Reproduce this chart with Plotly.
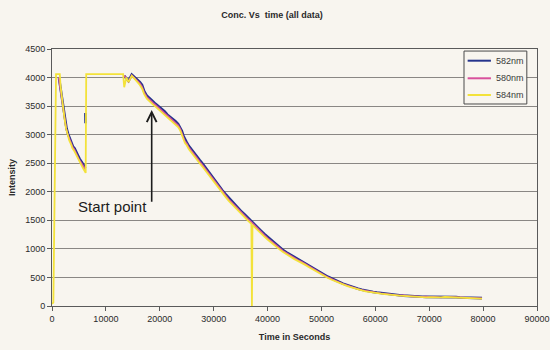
import plotly.graph_objects as go

# ---- data -----------------------------------------------------------------
# Early part of each run (first decay and the saturated stretch)
t_early_582 = [1300, 1500, 1700, 1900, 2100, 2400, 2700, 3000, 3300, 3600,
               3900, 4200, 4500, 4800, 5100, 5400, 5700, 6000, 6150, 6180,
               6200, 6230, 9000]
i_early_582 = [3990, 3870, 3720, 3590, 3480, 3280, 3110, 3010, 2930, 2870,
               2790, 2760, 2710, 2640, 2580, 2540, 2490, 2450, 2410, None,
               3380, 3200, None]

t_early_580 = [1250, 1450, 1650, 1850, 2050, 2350, 2650, 2950, 3250, 3550,
               3850, 4150, 4450, 4750, 5050, 5350, 5650, 5950, 6150, 9000]
i_early_580 = [4000, 3870, 3720, 3590, 3470, 3280, 3100, 3000, 2920, 2860,
               2780, 2740, 2690, 2620, 2560, 2520, 2470, 2430, 2380, None]

t_early_584 = [0, 250, 750, 1000, 1450, 1600, 1800, 2000, 2300, 2600,
               2900, 3200, 3500, 3800, 4100, 4400, 4700, 5000, 5300, 5600,
               5900, 6100, 6250, 6350, 8000, 10000, 12000, 13000, 13200]
i_early_584 = [40, 60, 4060, 4060, 4060, 3840, 3660, 3500, 3300, 3110,
               3000, 2900, 2840, 2760, 2720, 2660, 2590, 2530, 2480, 2440,
               2390, 2340, 2330, 4060, 4060, 4060, 4060, 4060, 4060]

# Main decay, shared time grid (s)
t_decay = [13400, 13800, 14200, 14800, 15300, 15800, 16300, 16700, 17100, 17600,
           18200, 18700, 19200, 19800, 20400, 20900, 21400, 21900, 22400, 22900,
           23400, 23800, 24100, 24400, 24700, 25000, 25400, 25900, 26400, 26900,
           27400, 28000, 28600, 29200, 29800, 30400, 31000, 31600, 32200, 32800,
           33400, 34000, 34600, 35200, 35800, 36400, 37000, 37100, 37200, 37600,
           38200, 38800, 39400, 40000, 40700, 41400, 42100, 42800, 43500, 44200,
           44900, 45600, 46300, 47000, 47700, 48400, 49100, 49800, 50500, 51200,
           51900, 52600, 53300, 54000, 54700, 55400, 56100, 56800, 57500, 58200,
           58900, 59600, 60300, 61000, 61700, 62400, 63100, 63800, 64500, 65200,
           65900, 66600, 67300, 68000, 68700, 69400, 70100, 70800, 71500, 72200,
           72900, 73600, 74300, 75000, 75700, 76400, 77100, 77800, 78500, 79200,
           79800]

i_decay_582 = [4030, 3990, 3940, 4050, 4010, 3970, 3920, 3870, 3760, 3680,
               3620, 3585, 3540, 3495, 3440, 3405, 3350, 3315, 3265, 3235,
               3185, 3125, 3065, 2975, 2905, 2865, 2800, 2735, 2665, 2615,
               2555, 2485, 2405, 2335, 2250, 2175, 2090, 2025, 1960, 1895,
               1830, 1770, 1715, 1650, 1600, 1540, 1490, 1480, 1470, 1430,
               1370, 1315, 1260, 1210, 1150, 1090, 1040, 985, 940, 900,
               860, 820, 790, 750, 710, 670, 630, 590, 550, 512,
               482, 450, 420, 392, 370, 345, 322, 302, 286, 270,
               256, 246, 236, 226, 216, 206, 199, 192, 188, 182,
               176, 172, 168, 165, 162, 160, 160, 158, 162, 160,
               166, 164, 160, 156, 150, 148, 150, 146, 142, 140,
               138]

i_decay_580 = [4035, 3985, 3930, 4040, 3995, 3950, 3900, 3840, 3740, 3660,
               3600, 3560, 3520, 3470, 3420, 3380, 3330, 3290, 3245, 3210,
               3165, 3100, 3040, 2950, 2880, 2845, 2775, 2710, 2640, 2590,
               2530, 2460, 2385, 2310, 2225, 2150, 2070, 2000, 1940, 1870,
               1810, 1750, 1690, 1630, 1580, 1520, 1470, 1460, 1450, 1410,
               1350, 1295, 1240, 1190, 1130, 1075, 1025, 970, 925, 885,
               845, 805, 775, 735, 695, 655, 618, 578, 540, 502,
               472, 440, 412, 384, 362, 338, 315, 296, 280, 265,
               250, 240, 231, 222, 212, 203, 205, 188, 185, 186,
               172, 169, 172, 161, 160, 166, 155, 163, 158, 150,
               162, 160, 156, 152, 146, 143, 146, 142, 138, 136,
               134]

i_decay_584 = [3830, 4000, 3920, 4030, 3980, 3930, 3870, 3810, 3710, 3630,
               3570, 3530, 3490, 3440, 3390, 3350, 3300, 3260, 3215, 3180,
               3135, 3070, 3010, 2920, 2850, 2815, 2745, 2680, 2610, 2560,
               2500, 2430, 2355, 2280, 2195, 2120, 2040, 1970, 1910, 1840,
               1780, 1720, 1660, 1600, 1550, 1490, 1440, 0, 1420, 1380,
               1325, 1270, 1215, 1165, 1105, 1050, 1000, 950, 905, 865,
               825, 790, 760, 720, 680, 640, 605, 565, 528, 490,
               460, 430, 400, 374, 352, 330, 308, 290, 274, 258,
               244, 235, 226, 216, 208, 198, 192, 186, 181, 176,
               170, 166, 162, 158, 156, 152, 154, 150, 155, 152,
               158, 156, 150, 140, 138, 140, 142, 138, 134, 132,
               130]

series = [
    ("582nm", t_early_582, i_early_582, i_decay_582, "#25348c", 2.6),
    ("580nm", t_early_580, i_early_580, i_decay_580, "#d8509c", 1.6),
    ("584nm", t_early_584, i_early_584, i_decay_584, "#f3e23a", 1.8),
]

x_ticks = [0, 10000, 20000, 30000, 40000, 50000, 60000, 70000, 80000, 90000]
y_ticks = [0, 500, 1000, 1500, 2000, 2500, 3000, 3500, 4000, 4500]

# ---- figure -----------------------------------------------------------------
BG = "#f8f5ef"
FONT = "Liberation Sans, Arial, sans-serif"
TXT = "#2a2a2a"

fig = go.Figure()
for name, t0, i0, idec, color, width in series:
    fig.add_trace(go.Scatter(
        x=t0 + t_decay, y=i0 + idec, mode="lines", name=name,
        line=dict(color=color, width=width), connectgaps=False,
        showlegend=False,
    ))

# Compact boxed key in the upper right of the plot area
key_left, key_right, key_top, key_bottom = 0.8495, 0.979, 0.992, 0.786
key_rows = [0.9545, 0.886, 0.821]
fig.add_shape(type="rect", xref="paper", yref="paper",
              x0=key_left, x1=key_right, y0=key_bottom, y1=key_top,
              line=dict(color="#4a4a4a", width=1), fillcolor=BG, layer="above")
for (name, _, _, _, color, _), yk in zip(series, key_rows):
    fig.add_shape(type="line", xref="paper", yref="paper",
                  x0=0.857, x1=0.905, y0=yk, y1=yk,
                  line=dict(color=color, width=2), layer="above")
    fig.add_annotation(x=0.911, y=yk, xref="paper", yref="paper",
                       text=name, showarrow=False, xanchor="left", yanchor="middle",
                       font=dict(family=FONT, size=9, color="#3a3a3a"))

# "Start point" arrow and label
fig.add_annotation(
    x=18500, y=3430, ax=18500, ay=1800, axref="x", ayref="y",
    text="", showarrow=True, arrowhead=5, arrowsize=1.2, arrowwidth=1.6,
    arrowcolor="#1c1c1c", standoff=0,
)
fig.add_annotation(
    x=18000, y=1740, text="Start point", showarrow=False,
    xanchor="right", yanchor="middle",
    font=dict(family=FONT, size=15, color="#1c1c1c"),
)

fig.update_layout(
    width=550, height=350,
    margin=dict(l=52, r=13, t=49, b=44, autoexpand=False),
    paper_bgcolor=BG, plot_bgcolor=BG,
    font=dict(family=FONT, size=9, color=TXT),
    title=dict(text="Conc. Vs\u00a0 time (all data)", x=0.4945, xanchor="center",
               y=0.957, yanchor="middle",
               font=dict(family=FONT, size=9, color=TXT, weight="bold")),
    showlegend=False,
)
fig.update_xaxes(
    range=[0, 90000], tickvals=x_ticks, tickformat="d", automargin=False,
    showgrid=False, zeroline=False,
    showline=True, linecolor="#5a5a5a", linewidth=1, mirror=True,
    ticks="outside", ticklen=4, tickcolor="#5a5a5a",
    tickfont=dict(family=FONT, size=9, color=TXT),
    title=dict(text="<b>Time in Seconds</b>", standoff=10,
               font=dict(family=FONT, size=9, color=TXT)),
)
fig.update_yaxes(
    range=[0, 4500], tickvals=y_ticks, tickformat="d", automargin=False,
    showgrid=True, gridcolor="#8a8784", gridwidth=1, zeroline=False,
    showline=True, linecolor="#5a5a5a", linewidth=1, mirror=True,
    ticks="outside", ticklen=4, tickcolor="#5a5a5a",
    tickfont=dict(family=FONT, size=9, color=TXT),
    title=dict(text="<b>Intensity</b>", standoff=8,
               font=dict(family=FONT, size=9, color=TXT)),
)

fig.write_html("out.html")
